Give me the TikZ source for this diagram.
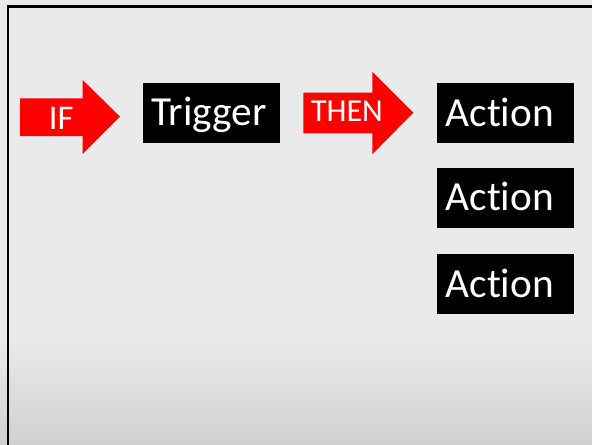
\documentclass[tikz,border=0pt]{standalone}
\usepackage{fontspec}
\setmainfont{Carlito}[Ligatures={NoCommon,NoContextual}]
\definecolor{slidebg}{HTML}{EAEAEA}
\definecolor{floormid}{HTML}{E2E2E2}
\definecolor{floorbg}{HTML}{D0D0D0}
\definecolor{arrowred}{HTML}{FF0000}
\begin{document}
\begin{tikzpicture}[x=0.75pt,y=-0.75pt,
  wordbox/.style={fill=black,text=white,minimum width=102.75pt,minimum height=45pt,
    inner xsep=6.5pt,text width=89.75pt,align=left,text height=24pt,text depth=4.5pt,
    font=\fontsize{31pt}{34pt}\selectfont},
  bigarrow/.style={fill=arrowred,draw=none},
  arrowlabel/.style={text=white,anchor=base,inner sep=0pt}]
\useasboundingbox (0,0) rectangle (592,444);
% slide background with the soft darker floor at the bottom
\fill[slidebg] (0,0) rectangle (592,444);
\shade[top color=slidebg,middle color=floormid,bottom color=floorbg] (0,340) rectangle (592,444);
% frame lines along the top and left edges
\draw[line width=1.9pt] (8,446) -- (8,6.5) -- (594,6.5);
% IF arrow
\fill[bigarrow] (20,98.3) -- (82.7,98.3) -- (82.7,80) -- (120,116.7) -- (82.7,154) -- (82.7,136) -- (20,136) -- cycle;
\node[arrowlabel,font=\fontsize{26pt}{28pt}\selectfont] (iflabel) at (61.3,129) {IF};
% THEN arrow
\fill[bigarrow] (303.3,92.7) -- (372.3,92.7) -- (372.3,71.7) -- (413.3,112.7) -- (372.3,154.3) -- (372.3,133.3) -- (303.3,133.3) -- cycle;
\node[arrowlabel,font=\fontsize{24pt}{26pt}\selectfont] (thenlabel) at (347,121.7) {THEN};
% trigger and action boxes
\node[wordbox] (trigger) at (211,112.5) {Trigger};
\node[wordbox] (action1) at (505.5,113) {Action};
\node[wordbox] (action2) at (505.5,197.5) {Action};
\node[wordbox] (action3) at (505.5,284) {Action};
\end{tikzpicture}
\end{document}
